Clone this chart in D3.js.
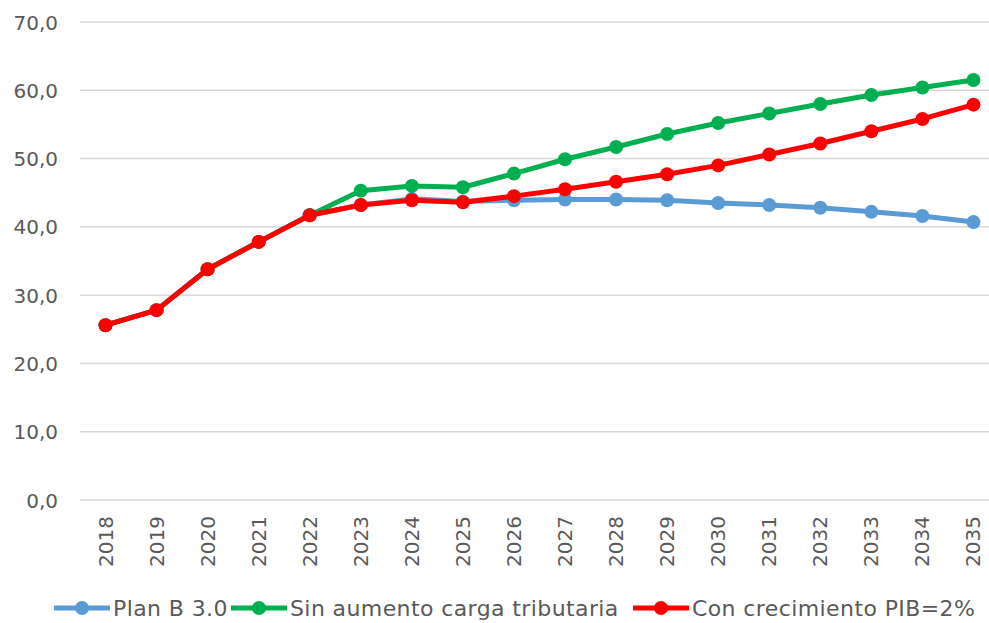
<!DOCTYPE html>
<html><head><meta charset="utf-8">
<script src="https://cdn.jsdelivr.net/npm/d3@7"></script>
<style>
html,body{margin:0;padding:0;background:#fff;}
svg text{font-family:"DejaVu Sans",sans-serif;fill:#595959;}
</style></head>
<body>
<svg id="chart" width="989" height="623"></svg>
<script>
const years = ["2018","2019","2020","2021","2022","2023","2024","2025","2026","2027","2028","2029","2030","2031","2032","2033","2034","2035"];
const planB = [25.6,27.8,33.8,37.8,41.7,43.2,44.1,43.7,43.9,44.0,44.0,43.9,43.5,43.2,42.8,42.2,41.6,40.7];
const sinAumento = [25.6,27.8,33.8,37.8,41.7,45.3,46.0,45.8,47.8,49.9,51.7,53.6,55.2,56.6,58.0,59.3,60.4,61.5];
const conCrecimiento = [25.6,27.8,33.8,37.8,41.7,43.2,43.9,43.6,44.5,45.5,46.6,47.7,49.0,50.6,52.2,54.0,55.8,57.9];
const yTicks = [0,10,20,30,40,50,60,70];
const seriesNames = ["Plan B 3.0","Sin aumento carga tributaria","Con crecimiento PIB=2%"];
const seriesColors = ["#5B9BD5","#00B050","#FF0000"];

const series = [planB, sinAumento, conCrecimiento].map((v,i)=>({name:seriesNames[i],color:seriesColors[i],values:v}));

const svg = d3.select("#chart");
const mLeft = 80, mRight = 999, mTop = 22, mBottom = 500;
const x = d3.scaleBand().domain(years).range([mLeft,mRight]);
const y = d3.scaleLinear().domain([0,70]).range([mBottom,mTop]);
const fmt = d => d3.format(".1f")(d).replace(".",",");

// gridlines
svg.append("g").selectAll("line").data(yTicks).join("line")
  .attr("x1",mLeft).attr("x2",mRight)
  .attr("y1",d=>y(d)).attr("y2",d=>y(d))
  .attr("stroke","#D9D9D9").attr("stroke-width",1.5);

// y axis labels
const yAxis = d3.axisLeft(y).tickValues(yTicks).tickFormat(fmt).tickSize(0).tickPadding(0);
const gy = svg.append("g").attr("transform",`translate(58,0)`).call(yAxis);
gy.select(".domain").remove();
gy.selectAll("text").style("font-size","20px").attr("fill","#595959").attr("dy","0.35em");

// x axis labels
const xAxis = d3.axisBottom(x).tickSize(0).tickPadding(0);
const gx = svg.append("g").attr("transform",`translate(0,${mBottom})`).call(xAxis);
gx.select(".domain").remove();
gx.selectAll("text").style("font-size","20px").attr("fill","#595959")
  .attr("transform","rotate(-90)").attr("text-anchor","end")
  .attr("x",-16).attr("y",0).attr("dy","0.35em");

const line = d3.line().x((d,i)=>x(years[i])+x.bandwidth()/2).y(d=>y(d));
series.forEach(s=>{
  const g = svg.append("g");
  g.append("path").datum(s.values).attr("d",line).attr("fill","none")
    .attr("stroke",s.color).attr("stroke-width",5).attr("stroke-linejoin","round");
  g.selectAll("circle").data(s.values).join("circle")
    .attr("cx",(d,i)=>x(years[i])+x.bandwidth()/2).attr("cy",d=>y(d))
    .attr("r",7).attr("fill",s.color);
});

// legend
const legendY = 608;
const legendX = [54, 231, 633];
series.forEach((s,i)=>{
  const g = svg.append("g").attr("transform",`translate(${legendX[i]},${legendY})`);
  g.append("line").attr("x1",0).attr("x2",56).attr("y1",0).attr("y2",0)
    .attr("stroke",s.color).attr("stroke-width",5);
  g.append("circle").attr("cx",28).attr("cy",0).attr("r",7).attr("fill",s.color);
  g.append("text").attr("x",59).attr("y",0).attr("dy","0.36em")
    .style("font-size","22px").style("letter-spacing","0.4px").text(s.name);
});
</script>
</body></html>
